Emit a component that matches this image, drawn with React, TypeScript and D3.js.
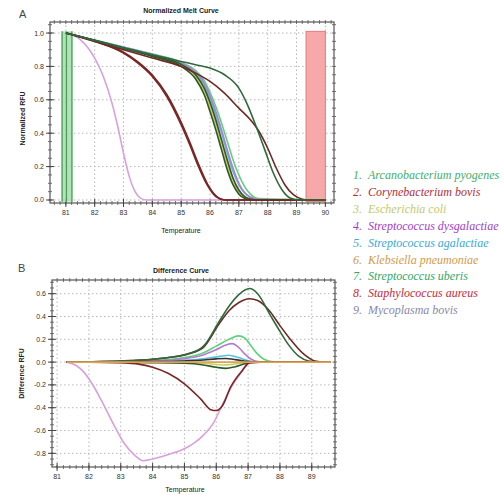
import React from "react";
import * as d3 from "d3";

// ---------- Legend ----------
const speciesNames = [
  "Arcanobacterium pyogenes",
  "Corynebacterium bovis",
  "Escherichia coli",
  "Streptococcus dysgalactiae",
  "Streptococcus agalactiae",
  "Klebsiella pneumoniae",
  "Streptococcus uberis",
  "Staphylococcus aureus",
  "Mycoplasma bovis",
];
const legendColors = ["#3fae6e", "#b0303a", "#c4c86a", "#a040c8", "#3aa8d8", "#d49a48", "#2fa868", "#c82838", "#8a88aa"];

// ---------- Axis ticks ----------
const meltXTicks = [81, 82, 83, 84, 85, 86, 87, 88, 89, 90];
const meltYTicks = [0, 0.2, 0.4, 0.6, 0.8, 1.0];
const diffXTicks = [81, 82, 83, 84, 85, 86, 87, 88, 89];
const diffYTicks = [-0.8, -0.6, -0.4, -0.2, 0, 0.2, 0.4, 0.6];

// ---------- Normalized melt curves ----------
const clusterTemps = [81, 82, 83, 84, 85, 85.5, 85.8, 86.0, 86.2, 86.4, 86.6, 86.8, 87.0, 87.2, 87.4, 87.7, 90];
const meltKlebsiella = [1, 0.955, 0.91, 0.865, 0.81, 0.745, 0.66, 0.57, 0.46, 0.34, 0.22, 0.12, 0.05, 0.02, 0.005, 0, 0];
const meltEcoli = [1, 0.955, 0.91, 0.862, 0.805, 0.735, 0.645, 0.55, 0.44, 0.32, 0.2, 0.1, 0.04, 0.015, 0.004, 0, 0];
const meltRep1 = [1, 0.955, 0.908, 0.86, 0.8, 0.725, 0.63, 0.53, 0.42, 0.3, 0.18, 0.09, 0.035, 0.01, 0, 0, 0];
const meltRep2 = [1, 0.956, 0.912, 0.866, 0.812, 0.75, 0.67, 0.585, 0.48, 0.36, 0.24, 0.13, 0.06, 0.02, 0.006, 0, 0];
const meltAgalactiae = [1, 0.957, 0.914, 0.87, 0.818, 0.76, 0.69, 0.61, 0.51, 0.4, 0.28, 0.17, 0.09, 0.04, 0.015, 0, 0];
const meltDysgalactiae = [1, 0.957, 0.915, 0.872, 0.82, 0.765, 0.7, 0.625, 0.53, 0.42, 0.3, 0.19, 0.1, 0.045, 0.018, 0.002, 0];
const meltUberis = [1, 0.958, 0.916, 0.874, 0.825, 0.775, 0.715, 0.645, 0.56, 0.46, 0.35, 0.24, 0.15, 0.08, 0.035, 0.008, 0];

const meltStaph: [number, number][] = [[81, 1], [82, 0.95], [83, 0.88], [83.5, 0.82], [84, 0.74], [84.5, 0.62], [85, 0.45], [85.3, 0.33], [85.6, 0.2], [85.9, 0.09], [86.2, 0.02], [86.5, 0], [90, 0]];
const meltStaph2: [number, number][] = [[81, 1], [82, 0.952], [83, 0.885], [83.5, 0.827], [84, 0.748], [84.5, 0.632], [85, 0.465], [85.3, 0.345], [85.6, 0.215], [85.9, 0.1], [86.2, 0.027], [86.55, 0], [90, 0]];
const meltMyco: [number, number][] = [[81, 1], [81.5, 0.96], [82, 0.85], [82.3, 0.74], [82.6, 0.58], [82.8, 0.44], [83.0, 0.28], [83.2, 0.14], [83.4, 0.05], [83.6, 0.01], [83.8, 0], [90, 0]];
const meltArcano: [number, number][] = [[81, 1], [82, 0.955], [83, 0.91], [84, 0.87], [85, 0.83], [85.5, 0.81], [86, 0.79], [86.5, 0.75], [87, 0.67], [87.3, 0.57], [87.6, 0.44], [87.9, 0.3], [88.2, 0.16], [88.5, 0.06], [88.8, 0.01], [89.1, 0], [90, 0]];
const meltCoryne: [number, number][] = [[81, 1], [82, 0.95], [83, 0.9], [84, 0.85], [85, 0.8], [85.5, 0.76], [86, 0.71], [86.5, 0.64], [87, 0.55], [87.4, 0.48], [87.7, 0.41], [88.0, 0.31], [88.3, 0.19], [88.6, 0.09], [88.9, 0.03], [89.2, 0.005], [89.4, 0], [90, 0]];

// ---------- Difference curves ----------
const diffKlebsiella: [number, number][] = [[81.3, 0], [85, 0], [87, 0], [89.6, 0]];
const diffEcoli: [number, number][] = [[81.3, 0], [85, -0.005], [85.8, -0.015], [86.2, -0.025], [86.5, -0.02], [86.9, -0.005], [87.3, 0], [89.6, 0]];
const diffRep1: [number, number][] = [[81.3, 0], [84, -0.005], [85, -0.01], [85.6, -0.025], [86.0, -0.045], [86.3, -0.055], [86.6, -0.04], [86.9, -0.015], [87.2, 0], [89.4, 0]];
const diffRep2: [number, number][] = [[81.3, 0], [84, 0.004], [85, 0.01], [85.6, 0.018], [86.0, 0.028], [86.3, 0.032], [86.6, 0.022], [86.9, 0.008], [87.2, 0], [89.4, 0]];
const diffAgalactiae: [number, number][] = [[81.3, 0], [84, 0.005], [85, 0.015], [85.6, 0.03], [86.1, 0.05], [86.4, 0.06], [86.7, 0.04], [87, 0.012], [87.3, 0], [89.4, 0]];
const diffDysgalactiae: [number, number][] = [[81.3, 0], [83, 0.004], [84, 0.012], [85, 0.03], [85.5, 0.055], [86, 0.11], [86.3, 0.15], [86.5, 0.162], [86.7, 0.13], [86.9, 0.07], [87.1, 0.025], [87.3, 0.005], [87.6, 0], [89.4, 0]];
const diffUberis: [number, number][] = [[81.3, 0], [83, 0.005], [84, 0.015], [85, 0.04], [85.5, 0.07], [86, 0.14], [86.4, 0.2], [86.7, 0.23], [86.9, 0.21], [87.1, 0.14], [87.3, 0.07], [87.5, 0.025], [87.8, 0.003], [88.2, 0], [89.4, 0]];
const diffArcano: [number, number][] = [[81.3, 0], [82, 0.003], [83, 0.01], [84, 0.025], [84.5, 0.04], [85.1, 0.07], [85.6, 0.14], [86.1, 0.36], [86.4, 0.49], [86.7, 0.59], [87.05, 0.645], [87.3, 0.6], [87.7, 0.41], [88.0, 0.27], [88.25, 0.16], [88.6, 0.05], [88.9, 0.01], [89.3, 0], [89.5, 0]];
const diffCoryne: [number, number][] = [[81.3, 0], [82, 0.003], [83, 0.01], [84, 0.025], [84.5, 0.04], [85.1, 0.07], [85.6, 0.13], [86.1, 0.34], [86.4, 0.45], [86.7, 0.52], [87.05, 0.555], [87.3, 0.54], [87.7, 0.44], [88.0, 0.32], [88.3, 0.21], [88.75, 0.07], [89.1, 0.01], [89.4, 0], [89.6, 0]];
const diffStaph: [number, number][] = [[81.3, 0], [82, 0], [83, -0.005], [83.6, -0.02], [84, -0.045], [84.5, -0.1], [85, -0.19], [85.5, -0.32], [85.85, -0.42], [86.0, -0.425], [86.2, -0.38], [86.45, -0.22], [86.8, -0.08], [87.05, -0.005], [87.4, 0], [89.4, 0]];
const diffMyco: [number, number][] = [[81.3, 0], [81.6, -0.03], [81.85, -0.09], [82.1, -0.19], [82.4, -0.34], [82.8, -0.56], [83.1, -0.71], [83.45, -0.82], [83.7, -0.865], [84.0, -0.85], [84.5, -0.81], [85.0, -0.76], [85.3, -0.71], [85.6, -0.64], [85.9, -0.54], [86.2, -0.37], [86.45, -0.23], [86.8, -0.085], [87.05, -0.005], [87.4, 0], [89.4, 0]];

// Melt region markers (start / end)
const startBand = [80.85, 81.23];
const startBandLines = [80.87, 81.02, 81.21];
const endBand = [89.33, 90.0];

const zipT = (t: number[], v: number[]): [number, number][] => t.map((x, i) => [x, v[i]]);

const C = {
  arcano: "#2f6a3c",
  coryne: "#6e2a24",
  ecoli: "#c9cf66",
  dysg: "#b57ad6",
  agal: "#58c0dc",
  kleb: "#e3a253",
  uberis: "#5cd27c",
  staph: "#7a2626",
  myco: "#d9a0de",
  rep: "#2d5a2a",
};

function Frame({ x, y, xTicks, yTicks, xMinorStep, yMinorStep, xFmt, yFmt }: any) {
  const [x0, x1] = x.range();
  const [y0, y1] = y.range();
  const xd = x.domain();
  const yd = y.domain();
  const xMinor = d3.range(Math.ceil(xd[0] / xMinorStep) * xMinorStep, xd[1], xMinorStep);
  const yMinor = d3.range(Math.ceil(yd[0] / yMinorStep) * yMinorStep, yd[1], yMinorStep);
  return (
    <g>
      {xTicks.map((t: number) => (
        <line key={"gx" + t} x1={x(t)} x2={x(t)} y1={y0} y2={y1} stroke="#b8b8b8" strokeDasharray="1.5,2.5" />
      ))}
      {yTicks.map((t: number) => (
        <line key={"gy" + t} x1={x0} x2={x1} y1={y(t)} y2={y(t)} stroke="#b8b8b8" strokeDasharray="1.5,2.5" />
      ))}
      <rect x={x0} y={y1} width={x1 - x0} height={y0 - y1} fill="none" stroke="#555" strokeWidth={1.2} />
      {xMinor.map((t: number, i: number) => (
        <g key={"mx" + i} stroke="#555" strokeWidth={0.8}>
          <line x1={x(t)} x2={x(t)} y1={y0 - 2} y2={y0 + 2} />
          <line x1={x(t)} x2={x(t)} y1={y1 - 2} y2={y1 + 2} />
        </g>
      ))}
      {yMinor.map((t: number, i: number) => (
        <g key={"my" + i} stroke="#555" strokeWidth={0.8}>
          <line x1={x0 - 2} x2={x0 + 2} y1={y(t)} y2={y(t)} />
          <line x1={x1 - 2} x2={x1 + 2} y1={y(t)} y2={y(t)} />
        </g>
      ))}
      {xTicks.map((t: number) => (
        <g key={"tx" + t}>
          <line x1={x(t)} x2={x(t)} y1={y0 - 4} y2={y0 + 4} stroke="#444" />
          <text x={x(t)} y={y0 + 12} textAnchor="middle" fontSize={7} fill="#333" fontFamily="Liberation Sans, Arial, sans-serif">
            {xFmt(t)}
          </text>
        </g>
      ))}
      {yTicks.map((t: number) => (
        <g key={"ty" + t}>
          <line x1={x0 - 4} x2={x0 + 4} y1={y(t)} y2={y(t)} stroke="#444" />
          <text x={x0 - 6} y={y(t) + 2.5} textAnchor="end" fontSize={7} fill="#333" fontFamily="Liberation Sans, Arial, sans-serif">
            {yFmt(t)}
          </text>
        </g>
      ))}
    </g>
  );
}

export default function App() {
  // Top chart scales
  const xA = d3.scaleLinear().domain([80.45, 90.3]).range([50, 334]);
  const yA = d3.scaleLinear().domain([-0.018, 1.066]).range([203, 22]);
  // Bottom chart scales
  const xB = d3.scaleLinear().domain([80.84, 89.73]).range([52, 335]);
  const yB = d3.scaleLinear().domain([-0.92, 0.72]).range([467, 280]);

  const lineA = d3.line<[number, number]>().x((d) => xA(d[0])).y((d) => yA(d[1])).curve(d3.curveMonotoneX);
  const lineB = d3.line<[number, number]>().x((d) => xB(d[0])).y((d) => yB(d[1])).curve(d3.curveMonotoneX);

  const meltSeries: { data: [number, number][]; color: string }[] = [
    { data: meltMyco, color: C.myco },
    { data: zipT(clusterTemps, meltKlebsiella), color: C.kleb },
    { data: zipT(clusterTemps, meltEcoli), color: C.ecoli },
    { data: zipT(clusterTemps, meltUberis), color: C.uberis },
    { data: zipT(clusterTemps, meltAgalactiae), color: C.agal },
    { data: zipT(clusterTemps, meltDysgalactiae), color: C.dysg },
    { data: zipT(clusterTemps, meltRep2), color: C.rep },
    { data: zipT(clusterTemps, meltRep1), color: C.rep },
    { data: meltStaph2, color: C.staph },
    { data: meltStaph, color: C.staph },
    { data: meltCoryne, color: C.coryne },
    { data: meltArcano, color: C.arcano },
  ];

  const diffSeries: { data: [number, number][]; color: string }[] = [
    { data: diffMyco, color: C.myco },
    { data: diffEcoli, color: C.ecoli },
    { data: diffAgalactiae, color: C.agal },
    { data: diffUberis, color: C.uberis },
    { data: diffDysgalactiae, color: C.dysg },
    { data: diffRep1, color: C.rep },
    { data: diffRep2, color: "#333" },
    { data: diffStaph, color: C.staph },
    { data: diffCoryne, color: C.coryne },
    { data: diffArcano, color: C.arcano },
    { data: diffKlebsiella, color: C.kleb },
  ];

  const fmt1 = (t: number) => t.toFixed(1);
  const fmtT = (t: number) => String(t);
  const font = "Liberation Sans, Arial, sans-serif";

  return (
    <svg width={504} height={495} style={{ position: "absolute", left: 0, top: 0, background: "#fff" }}>
      <rect x={0} y={0} width={504} height={495} fill="#fff" />
      {/* ---- Panel A ---- */}
      <text x={19} y={18} fontSize={11} fill="#444" fontFamily={font}>A</text>
      <text x={181} y={13} fontSize={7} textAnchor="middle" fill="#222" fontFamily={font} fontWeight="bold">Normalized Melt Curve</text>
      <Frame x={xA} y={yA} xTicks={meltXTicks} yTicks={meltYTicks} xMinorStep={0.2} yMinorStep={0.05} xFmt={fmtT} yFmt={fmt1} />
      <rect x={xA(startBand[0])} y={yA(1.01)} width={xA(startBand[1]) - xA(startBand[0])} height={yA(-0.01) - yA(1.01)} fill="#9fdca6" opacity={0.8} />
      {startBandLines.map((t, i) => (
        <line key={"sb" + i} x1={xA(t)} x2={xA(t)} y1={yA(1.01)} y2={yA(-0.01)} stroke="#4aa05a" strokeWidth={1.3} />
      ))}
      <rect x={xA(endBand[0])} y={yA(1.01)} width={xA(endBand[1]) - xA(endBand[0])} height={yA(-0.01) - yA(1.01)} fill="#f7a8a8" stroke="#e57a7a" strokeWidth={1} />
      {meltSeries.map((s, i) => (
        <path key={"m" + i} d={lineA(s.data) || ""} fill="none" stroke={s.color} strokeWidth={1.6} />
      ))}
      <text x={181} y={233} fontSize={7} textAnchor="middle" fill="#222" fontFamily={font}>Temperature</text>
      <text transform={`translate(25,${(yA(0) + yA(1)) / 2 + 2}) rotate(-90)`} fontSize={7} textAnchor="middle" fill="#222" fontFamily={font} fontWeight="bold">Normalized RFU</text>

      {/* ---- Panel B ---- */}
      <text x={18} y={272} fontSize={11} fill="#444" fontFamily={font}>B</text>
      <text x={181} y={273} fontSize={7} textAnchor="middle" fill="#222" fontFamily={font} fontWeight="bold">Difference Curve</text>
      <Frame x={xB} y={yB} xTicks={diffXTicks} yTicks={diffYTicks} xMinorStep={0.2} yMinorStep={0.05} xFmt={fmtT} yFmt={fmt1} />
      {diffSeries.map((s, i) => (
        <path key={"d" + i} d={lineB(s.data) || ""} fill="none" stroke={s.color} strokeWidth={1.6} />
      ))}
      <text x={185} y={492} fontSize={7} textAnchor="middle" fill="#222" fontFamily={font}>Temperature</text>
      <text transform={`translate(24,${(yB(-0.92) + yB(0.72)) / 2}) rotate(-90)`} fontSize={7} textAnchor="middle" fill="#222" fontFamily={font} fontWeight="bold">Difference RFU</text>

      {/* ---- Legend ---- */}
      {speciesNames.map((name, i) => (
        <g key={"lg" + i} fontFamily="Liberation Serif, Times New Roman, serif" fontStyle="italic" fontSize={12} fill={legendColors[i]}>
          <text x={353} y={179 + i * 16.9}>{`${i + 1}.`}</text>
          <text x={368} y={179 + i * 16.9}>{name}</text>
        </g>
      ))}
    </svg>
  );
}
